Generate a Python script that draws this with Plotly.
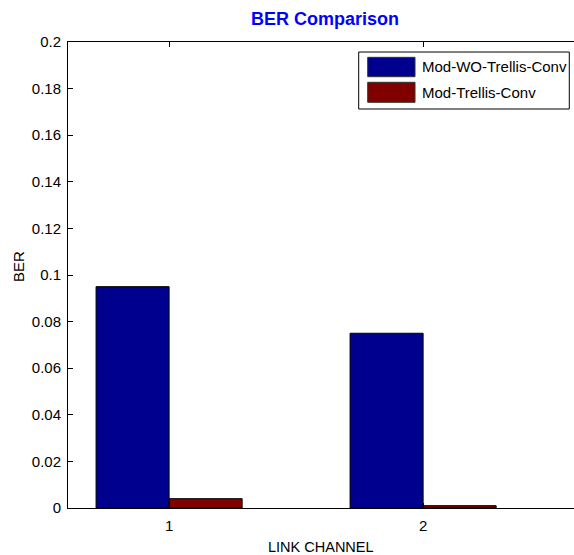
import plotly.graph_objects as go

# Data
channels = [1, 2]
series_names = ["Mod-WO-Trellis-Conv", "Mod-Trellis-Conv"]
ber_wo_trellis = [0.095, 0.075]
ber_trellis = [0.004, 0.001]
series_colors = ["#00008F", "#800000"]
y_ticks = [0, 0.02, 0.04, 0.06, 0.08, 0.1, 0.12, 0.14, 0.16, 0.18, 0.2]
y_tick_labels = ["0", "0.02", "0.04", "0.06", "0.08", "0.1", "0.12", "0.14", "0.16", "0.18", "0.2"]
x_tick_labels = ["1", "2"]

FONT = "Liberation Sans, Arial, Helvetica, sans-serif"

fig = go.Figure()
for name, vals, col in zip(series_names, [ber_wo_trellis, ber_trellis], series_colors):
    fig.add_trace(go.Bar(
        x=channels, y=vals, name=name,
        marker=dict(color=col, line=dict(color="#000000", width=1)),
        showlegend=False,
    ))

fig.update_layout(
    width=574, height=555,
    margin=dict(l=68, r=0, t=42, b=47),
    paper_bgcolor="white", plot_bgcolor="white",
    barmode="group", bargap=0.425, bargroupgap=0,
    font=dict(family=FONT, size=15, color="#000000"),
    xaxis=dict(
        range=[0.602, 2.594], tickvals=channels, ticktext=x_tick_labels,
        ticks="inside", ticklen=5, tickcolor="#000000",
        showline=True, linecolor="#000000", linewidth=1, mirror="ticks",
        showgrid=False, zeroline=False, ticklabelstandoff=4,
        tickfont=dict(size=15),
    ),
    yaxis=dict(
        range=[0, 0.2], tickvals=y_ticks, ticktext=y_tick_labels,
        ticks="inside", ticklen=5, tickcolor="#000000",
        showline=True, linecolor="#000000", linewidth=1, mirror=False,
        showgrid=False, zeroline=False, ticklabelstandoff=3,
        tickfont=dict(size=15),
    ),
)

annotations = [
    dict(text="<b>BER Comparison</b>", x=0.508, y=1.049, xref="paper", yref="paper",
         showarrow=False, font=dict(size=18, color="#0000FF", family=FONT),
         xanchor="center", yanchor="middle"),
    dict(text="LINK CHANNEL", x=0.5, y=-0.0837, xref="paper", yref="paper",
         showarrow=False, font=dict(size=14.5), xanchor="center", yanchor="middle"),
    dict(text="BER", x=-0.0988, y=0.517, xref="paper", yref="paper", textangle=-90,
         showarrow=False, font=dict(size=15), xanchor="center", yanchor="middle"),
]

# Legend box drawn with shapes so the swatches are wide rectangles
shapes = [
    dict(type="rect", xref="paper", yref="paper", x0=0.5745, x1=0.9907, y0=0.8562, y1=0.9785,
         line=dict(color="#000000", width=1), fillcolor="white", layer="above"),
]
sw_rows = [(0.9255, 0.9671, 0.9464), (0.8706, 0.9135, 0.8927)]
for (y0, y1, yc), name, col in zip(sw_rows, series_names, series_colors):
    shapes.append(dict(type="rect", xref="paper", yref="paper", x0=0.5923, x1=0.6858,
                       y0=y0, y1=y1, fillcolor=col, line=dict(color="#333333", width=1),
                       layer="above"))
    annotations.append(dict(text=name, x=0.6957, y=yc, xref="paper", yref="paper",
                            showarrow=False, xanchor="left", yanchor="middle",
                            font=dict(size=15)))

fig.update_layout(annotations=annotations, shapes=shapes)
fig.write_html("out.html")
